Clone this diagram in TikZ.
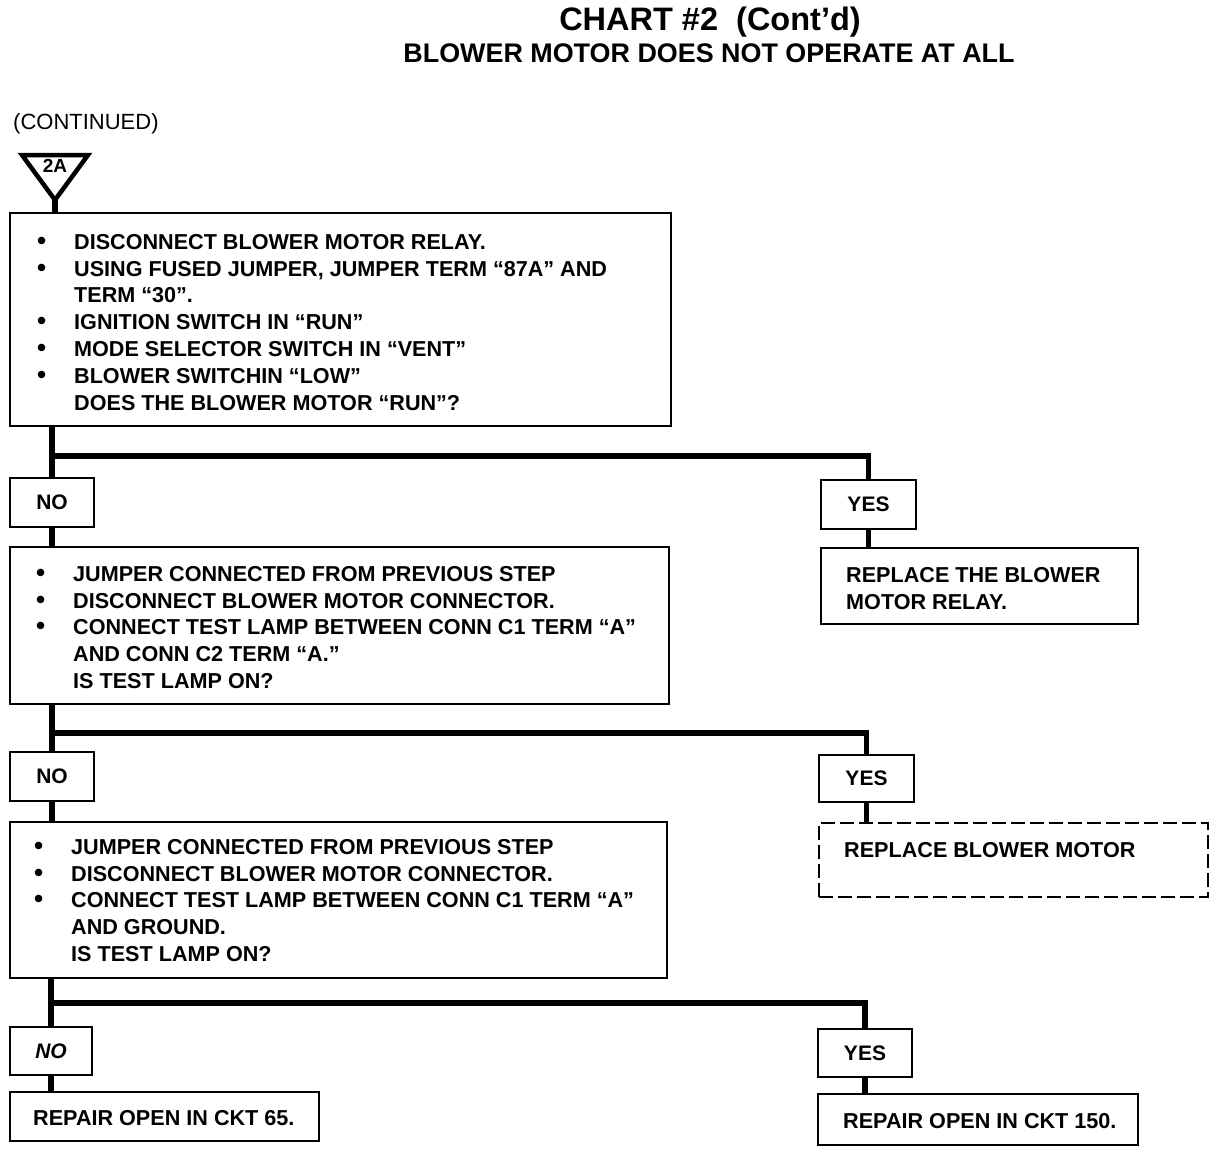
\documentclass[tikz,border=0pt]{standalone}
\usepackage{graphicx}
\usepackage{fontspec}
\setmainfont{Liberation Sans}
\begin{document}
\begin{tikzpicture}[x=1pt,y=-1pt,
  box/.style={draw,line width=2.8pt,rectangle,inner sep=0pt,font=\fontsize{21}{24}\selectfont\bfseries},
  dbox/.style={box,dash pattern=on 14pt off 5pt},
  bar/.style={line width=5.5pt},
  body/.style={anchor=north west,inner sep=0pt,align=left,font=\fontsize{21.6}{26.8}\selectfont\bfseries},
  lbl/.style={anchor=base west,inner sep=0pt,font=\fontsize{21.6}{26.8}\selectfont\bfseries}]
\useasboundingbox (0,0) rectangle (1216,1152);
\newcommand{\bul}{\makebox[38pt][l]{\hspace{1pt}\scalebox{1.2}{•}}}
\newcommand{\ind}{\hspace*{38pt}}
% titles
\node[anchor=base,inner sep=0pt,font=\fontsize{32.5}{36}\selectfont\bfseries] (t1) at (710,30) {CHART \#2\ \ (Cont’d)};
\node[anchor=base,inner sep=0pt,font=\fontsize{26.9}{30}\selectfont\bfseries] (t2) at (709,62) {BLOWER MOTOR DOES NOT OPERATE AT ALL};
\node[anchor=base west,inner sep=0pt,font=\fontsize{22}{25}\selectfont] (cont) at (13,129) {(CONTINUED)};
% off-page connector triangle
\coordinate (tA) at (22,155);
\coordinate (tB) at (88,155);
\coordinate (tC) at (55,200);
\draw[line width=4.5pt,line join=miter] (tA) -- (tB) -- (tC) -- cycle;
\node[inner sep=0pt,font=\fontsize{19}{22}\selectfont\bfseries] (lab2A) at (55,166) {2A};
% boxes
\node[box,minimum width=661pt,minimum height=213pt] (b1) at (340.5,319.5) {};
\node[box,minimum width=84pt,minimum height=49pt] (no1) at (52,502.5) {NO};
\node[box,minimum width=95pt,minimum height=49pt] (yes1) at (868.5,504.5) {YES};
\node[box,minimum width=317pt,minimum height=76pt] (rep1) at (979.5,586) {};
\node[box,minimum width=659pt,minimum height=157pt] (b2) at (339.5,625.5) {};
\node[box,minimum width=84pt,minimum height=49pt] (no2) at (52,776.5) {NO};
\node[box,minimum width=95pt,minimum height=47pt] (yes2) at (866.5,778.5) {YES};
\node[dbox,minimum width=389pt,minimum height=74pt] (rep2) at (1013.5,860) {};
\node[box,minimum width=657pt,minimum height=156pt] (b3) at (338.5,900) {};
\node[box,minimum width=82pt,minimum height=48pt] (no3) at (51,1051) {\itshape NO};
\node[box,minimum width=94pt,minimum height=48pt] (yes3) at (865,1053) {YES};
\node[box,minimum width=309pt,minimum height=49pt] (rep3) at (164.5,1116.5) {};
\node[box,minimum width=320pt,minimum height=51pt] (rep4) at (978,1119.5) {};
% texts
\node[body] (b1t) at (36,233) {\rule{0pt}{16pt}\bul DISCONNECT BLOWER MOTOR RELAY.\\
\bul USING FUSED JUMPER, JUMPER TERM “87A” AND\\
\ind TERM “30”.\\
\bul IGNITION SWITCH IN “RUN”\\
\bul MODE SELECTOR SWITCH IN “VENT”\\
\bul BLOWER SWITCHIN “LOW”\\
\ind DOES THE BLOWER MOTOR “RUN”?};
\node[body] (b2t) at (35,565) {\rule{0pt}{16pt}\bul JUMPER CONNECTED FROM PREVIOUS STEP\\
\bul DISCONNECT BLOWER MOTOR CONNECTOR.\\
\bul CONNECT TEST LAMP BETWEEN CONN C1 TERM “A”\\
\ind AND CONN C2 TERM “A.”\\
\ind IS TEST LAMP ON?};
\node[body] (b3t) at (33,838) {\rule{0pt}{16pt}\bul JUMPER CONNECTED FROM PREVIOUS STEP\\
\bul DISCONNECT BLOWER MOTOR CONNECTOR.\\
\bul CONNECT TEST LAMP BETWEEN CONN C1 TERM “A”\\
\ind AND GROUND.\\
\ind IS TEST LAMP ON?};
\node[body] (rep1t) at (846,566) {\rule{0pt}{16pt}REPLACE THE BLOWER\\MOTOR RELAY.};
\node[lbl] (rep2t) at (844,857) {REPLACE BLOWER MOTOR};
\node[lbl] (rep3t) at (33,1125) {REPAIR OPEN IN CKT 65.};
\node[lbl] (rep4t) at (843,1128) {REPAIR OPEN IN CKT 150.};
% junction points
\coordinate (j1) at (52,456);
\coordinate (j2) at (52,733);
\coordinate (j3) at (51,1003);
% connectors
\draw[bar] (tC) -- (b1.north -| tC);
\draw[bar] (b1.south -| no1.north) -- (no1.north);
\draw[bar,line join=miter] (j1) -| (yes1.north);
\draw[bar] (yes1.south) -- (rep1.north -| yes1.south);
\draw[bar] (no1.south) -- (b2.north -| no1.south);
\draw[bar] (b2.south -| no2.north) -- (no2.north);
\draw[bar,line join=miter] (j2) -| (yes2.north);
\draw[bar] (yes2.south) -- (rep2.north -| yes2.south);
\draw[bar] (no2.south) -- (b3.north -| no2.south);
\draw[bar] (b3.south -| no3.north) -- (no3.north);
\draw[bar,line join=miter] (j3) -| (yes3.north);
\draw[bar] (yes3.south) -- (rep4.north -| yes3.south);
\draw[bar] (no3.south) -- (rep3.north -| no3.south);
\end{tikzpicture}
\end{document}
